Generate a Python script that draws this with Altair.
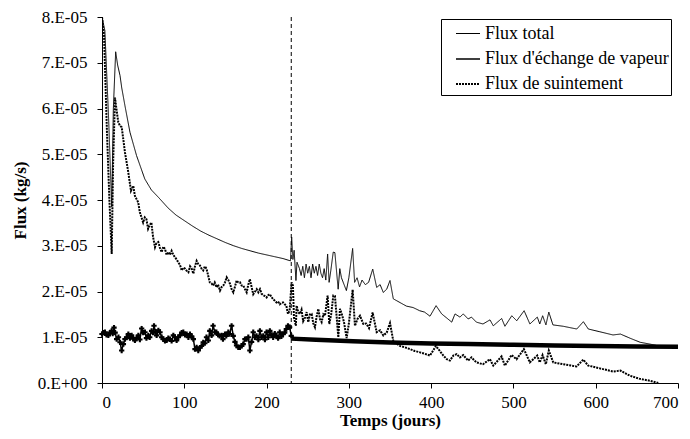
import altair as alt
import pandas as pd

# ---- data (flux values in units of 1e-5 kg/s) ----
total_days = [0, 3.5, 8, 11.8, 13.8, 16.6, 19, 21.9, 24, 27.9, 34, 42, 52, 60, 68.5, 80.6, 90, 100, 110, 120,
              130, 140, 150, 160, 170, 180, 190, 200, 210, 220, 229, 230.5, 232, 233.5, 235.7, 237, 240, 242,
              244, 246, 248, 250, 252, 254, 256, 258, 260, 262, 264, 266, 268, 270, 272, 274.2, 276, 278, 281,
              283, 287, 289, 291, 294, 297, 300, 304.6, 307, 310, 313, 316, 320, 324, 329, 333.8, 338, 341.8,
              346, 350, 354, 362, 370, 378, 386, 392, 398.6, 406, 412.8, 419, 425, 429, 435, 439, 445, 449, 455,
              463, 471.5, 475.5, 485.7, 489.7, 498, 504, 513, 520, 529, 532, 535.5, 539.5, 543, 548, 560.5, 577,
              585, 591, 605, 621, 630, 641.6, 654, 666, 674]
total_vals = [8.0, 7.7, 5.8, 3.85, 6.0, 7.24, 6.95, 6.72, 6.45, 6.06, 5.48, 4.97, 4.46, 4.22, 4.06, 3.82, 3.67,
              3.55, 3.43, 3.32, 3.23, 3.15, 3.07, 3.0, 2.94, 2.89, 2.84, 2.8, 2.76, 2.72, 2.67, 3.19, 2.7, 2.9,
              2.24, 2.64, 2.5, 2.35, 2.55, 2.3, 2.6, 2.4, 2.55, 2.3, 2.6, 2.4, 2.55, 2.35, 2.6, 2.4, 2.3, 2.5,
              2.25, 2.82, 2.2, 2.45, 2.86, 2.85, 2.05, 2.5, 2.3, 2.16, 2.02, 2.3, 2.94, 2.2, 2.3, 2.1, 2.25, 2.15,
              2.2, 2.49, 2.09, 2.15, 1.98, 2.05, 2.24, 1.84, 1.76, 1.68, 1.65, 1.58, 1.55, 1.46, 1.69, 1.51, 1.42,
              1.33, 1.51, 1.44, 1.51, 1.40, 1.44, 1.33, 1.29, 1.38, 1.25, 1.41, 1.24, 1.47, 1.36, 1.58, 1.29,
              1.44, 1.29, 1.47, 1.27, 1.55, 1.27, 1.24, 1.18, 1.34, 1.18, 1.12, 1.05, 1.07, 0.98, 0.89, 0.85, 0.82]

vap1_days = [0, 2, 3.6, 5.5, 7.7, 9.5, 11.7, 13, 14.6, 16, 17.8, 20, 21.9, 23.9, 26, 27.9, 30, 32, 34, 36, 38, 40,
             42, 44.2, 46, 48.2, 50, 52.2, 54, 56.3, 58, 60.3, 62, 63.2, 65, 66.4, 68.5, 70.5, 72.5, 74.5, 76.5,
             78.6, 80.6, 82.6, 84.6, 86.7, 88.7, 90.7, 92.7, 94.8, 96.8, 98.8, 100.8, 102.9, 105, 106.9, 109,
             111, 113, 115, 117, 119, 121, 123, 125, 127, 129.2, 131, 133.2, 135, 137.3, 139, 141.3, 143, 145.4,
             147, 149.4, 151, 153.5, 155, 157.5, 159.5, 161.6, 163.5, 165.6, 167.6, 169.7, 171.6, 173.7, 175.7,
             177.8, 179.7, 181.8, 183.8, 185.8, 187.8, 190, 191.9, 194, 196, 198, 200, 202, 204, 206, 208, 210,
             212, 214, 216, 218, 220, 222, 224, 226, 228, 230]
vap1_vals = [1.07, 1.1, 1.11, 1.05, 1.04, 1.1, 1.14, 1.08, 1.21, 1.1, 0.96, 1.0, 0.89, 0.71, 0.85, 0.96, 1.0, 1.07,
             0.98, 1.04, 0.97, 0.93, 0.98, 1.04, 0.95, 1.19, 1.1, 1.11, 0.98, 1.04, 1.0, 1.14, 1.1, 1.25, 1.12,
             1.04, 1.15, 1.11, 1.0, 0.96, 0.92, 0.93, 0.98, 0.96, 0.92, 1.04, 1.0, 0.93, 1.0, 1.04, 1.1, 1.11,
             1.05, 1.07, 1.0, 1.07, 1.02, 0.96, 0.74, 0.78, 0.71, 0.77, 0.81, 0.89, 0.87, 1.0, 0.93, 1.14, 1.04,
             1.25, 1.11, 1.11, 1.05, 1.03, 1.04, 0.96, 1.07, 1.03, 1.11, 1.07, 1.25, 1.03, 0.9, 0.82, 0.78, 0.78,
             0.81, 0.85, 0.96, 0.96, 1.0, 0.71, 0.9, 1.11, 1.0, 1.03, 0.95, 1.14, 1.0, 1.03, 0.95, 1.11, 1.0,
             1.14, 1.05, 1.0, 1.08, 1.03, 0.98, 1.11, 1.02, 1.07, 1.1, 1.18, 1.25, 1.22, 1.03]

vap2_days = [230, 260, 305, 350, 400, 445, 500, 550, 600, 650, 700]
vap2_vals = [0.97, 0.945, 0.91, 0.885, 0.865, 0.85, 0.835, 0.82, 0.81, 0.80, 0.79]

suin_days = [0, 2.5, 6, 9, 11.8, 13.5, 15.8, 17, 19.8, 21.9, 24, 27.9, 32, 35.2, 38, 40, 42, 44, 46, 50, 52, 54, 56,
             58, 60, 62, 64.4, 66, 68.4, 70.5, 72.5, 74.5, 76.5, 78.6, 80.6, 82.6, 84.6, 86.7, 88.7, 90.7, 92.7,
             94.8, 96.8, 98.8, 100.8, 103, 105, 107, 109, 111, 113, 115, 117, 119, 121, 123, 125, 127, 129, 131,
             133, 135, 137, 139.3, 141, 143.4, 145.5, 147.4, 149.5, 151.5, 153.5, 155.5, 157.5, 159.6, 161.5,
             163.6, 165.6, 167.7, 169.7, 171.7, 173.8, 175.8, 177.8, 179.7, 181.8, 183.8, 186, 188, 190, 192, 194,
             196, 198, 200, 202, 204, 206, 208, 210, 212, 214, 216, 218, 220, 222, 224, 226, 228, 230.4, 232,
             233.3, 235.6, 236.5, 238.5, 240.6, 242.5, 244.5, 246.7, 248.7, 250.7, 252.7, 254.8, 256.8, 258.8,
             260.8, 262.9, 264.9, 266.9, 269, 271, 274.2, 276.2, 278.5, 281.1, 283.1, 287.2, 289.2, 291.5, 294.1,
             297.3, 300, 304.6, 307.4, 310.5, 313.5, 317.6, 321, 324.5, 328.9, 333.8, 338, 341.9, 346, 350, 354,
             362, 368, 374.3, 380, 386.4, 392, 398.6, 405.8, 414.8, 419, 422.8, 427, 431, 435, 439, 445, 449, 455,
             463, 471.4, 475.5, 485.6, 489.6, 497.7, 503.8, 512.7, 520, 528.9, 532, 535.4, 539.4, 543, 548.4,
             560.5, 576.7, 584.8, 590.9, 605, 621.3, 630, 641.5, 653.7, 665.8, 676]
suin_vals = [8.0, 7.6, 5.5, 4.0, 2.82, 4.8, 6.24, 6.06, 5.7, 5.62, 5.59, 5.04, 4.6, 4.2, 4.31, 4.09, 4.02, 3.95,
             3.73, 3.51, 3.62, 3.58, 3.37, 3.45, 3.51, 3.2, 2.97, 3.05, 3.08, 2.95, 2.86, 2.98, 2.93, 2.8, 2.86,
             2.8, 2.89, 2.8, 2.75, 2.7, 2.64, 2.58, 2.46, 2.52, 2.5, 2.45, 2.42, 2.55, 2.5, 2.39, 2.55, 2.67, 2.6,
             2.57, 2.5, 2.46, 2.55, 2.5, 2.35, 2.2, 2.18, 2.13, 2.2, 2.09, 2.15, 2.02, 2.1, 2.13, 2.2, 2.31, 2.25,
             2.17, 2.05, 1.98, 2.1, 2.24, 2.2, 2.2, 2.13, 2.13, 2.05, 1.98, 2.15, 2.27, 2.1, 1.94, 2.0, 2.05, 1.98,
             2.05, 1.95, 1.92, 1.9, 1.87, 1.92, 1.94, 1.88, 1.83, 1.8, 1.76, 1.78, 1.72, 1.75, 1.76, 1.72, 1.69,
             1.51, 1.58, 2.2, 2.13, 1.43, 1.25, 1.69, 1.55, 1.51, 1.6, 1.35, 1.43, 1.55, 1.33, 1.5, 1.51, 1.3,
             1.22, 1.45, 1.62, 1.4, 1.33, 1.5, 1.47, 1.91, 1.29, 1.5, 1.91, 1.9, 1.0, 1.62, 1.5, 1.33, 0.98, 1.3,
             2.04, 1.25, 1.4, 1.47, 1.29, 1.3, 1.2, 1.54, 1.11, 1.15, 1.04, 1.1, 1.31, 0.92, 0.81, 0.78, 0.74,
             0.7, 0.67, 0.64, 0.6, 0.81, 0.6, 0.52, 0.49, 0.6, 0.63, 0.56, 0.61, 0.49, 0.56, 0.45, 0.41, 0.52,
             0.38, 0.58, 0.38, 0.61, 0.52, 0.74, 0.45, 0.6, 0.45, 0.61, 0.41, 0.71, 0.45, 0.41, 0.36, 0.51, 0.38,
             0.32, 0.25, 0.27, 0.16, 0.09, 0.05, 0.0]

event_day = [230]
series_names = ["Flux total", "Flux d'échange de vapeur", "Flux de suintement"]
y_ticks = [0, 1, 2, 3, 4, 5, 6, 7, 8]
x_ticks = [0, 100, 200, 300, 400, 500, 600, 700]

FONT = "Liberation Serif, Times New Roman, serif"

rows = []
for name, ds, vs in [(series_names[0], total_days, total_vals),
                     (series_names[1], vap1_days, vap1_vals),
                     (series_names[2], suin_days, suin_vals)]:
    for i, (d, v) in enumerate(zip(ds, vs)):
        rows.append({"series": name, "day": d, "flux": v, "order": i})
df = pd.DataFrame(rows)
df_vap1 = pd.DataFrame({"day": vap1_days, "flux": vap1_vals})
df_vap2 = pd.DataFrame({"day": vap2_days, "flux": vap2_vals})
df_rule = pd.DataFrame({"day": event_day})

x_enc = alt.X("day:Q", scale=alt.Scale(domain=[0, 700], nice=False),
              axis=alt.Axis(values=x_ticks, title="Temps (jours)", grid=False, tickSize=5,
                            labelPadding=6, titlePadding=2, format="d"))
y_enc = alt.Y("flux:Q", scale=alt.Scale(domain=[0, 8], nice=False),
              axis=alt.Axis(values=y_ticks, title="Flux (kg/s)", grid=False, tickSize=5,
                            labelPadding=10, titlePadding=8,
                            labelExpr="datum.value == 0 ? '0.E+00' : round(datum.value) + '.E-05'"))

lines = alt.Chart(df).mark_line(color="black", clip=True).encode(
    x=x_enc, y=y_enc,
    order="order:Q",
    strokeDash=alt.StrokeDash("series:N",
                              scale=alt.Scale(domain=series_names, range=[[1, 0], [1, 0], [2, 1]]),
                              legend=alt.Legend(orient="none", legendX=339, legendY=2, title=None,
                                                symbolType="stroke", symbolStrokeColor="black",
                                                symbolStrokeWidth=1, symbolSize=576, symbolOffset=12,
                                                labelFont=FONT, labelFontSize=18, labelColor="black",
                                                labelOffset=4, strokeColor="black", fillColor="white",
                                                padding=2, rowPadding=3, labelLimit=300)),
    strokeWidth=alt.StrokeWidth("series:N",
                                scale=alt.Scale(domain=series_names, range=[1, 2, 0.9]),
                                legend=None),
)

markers = alt.Chart(df_vap1).mark_point(shape="cross", size=28, filled=True, color="black",
                                         opacity=1).encode(x="day:Q", y="flux:Q")

vap2 = alt.Chart(df_vap2).mark_line(color="black", strokeWidth=4.5).encode(x="day:Q", y="flux:Q")

rule = alt.Chart(df_rule).mark_rule(color="black", strokeWidth=1, strokeDash=[4, 3]).encode(x="day:Q")

chart = alt.layer(lines, markers, vap2, rule).properties(
    width=576, height=366,
    autosize=alt.AutoSizeParams(type="none"),
    padding={"left": 94, "top": 9, "right": 4, "bottom": 48},
).configure_view(stroke=None).configure_axis(
    domainColor="black", tickColor="black", labelColor="black", titleColor="black",
    labelFont=FONT, titleFont=FONT, labelFontSize=17, titleFontSize=17,
    titleFontWeight="bold", labelFontWeight="normal",
)

chart.save("out.html", embed_options={"renderer": "svg", "actions": False})
